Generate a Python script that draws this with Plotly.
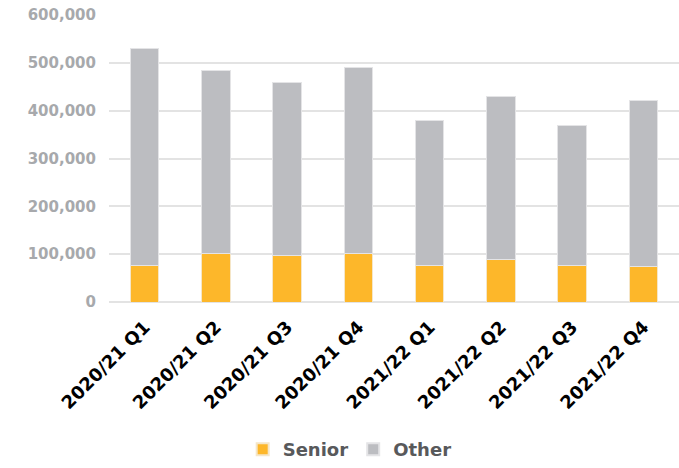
import plotly.graph_objects as go

quarters = ["2020/21 Q1", "2020/21 Q2", "2020/21 Q3", "2020/21 Q4",
            "2021/22 Q1", "2021/22 Q2", "2021/22 Q3", "2021/22 Q4"]
senior = [77000, 102000, 98000, 101000, 76000, 88000, 76000, 74000]
total = [531000, 483000, 458000, 491000, 380000, 429000, 369000, 422000]
other = [t - s for t, s in zip(total, senior)]

fig = go.Figure()
fig.add_trace(go.Bar(x=quarters, y=senior, name="Senior",
                     marker=dict(color="#FDB72A", line=dict(color="#F5E6C8", width=1))))
fig.add_trace(go.Bar(x=quarters, y=other, name="Other",
                     marker=dict(color="#BCBDC1", line=dict(color="#E4E4E6", width=1))))

fig.update_layout(
    barmode="stack",
    bargap=0.6,
    width=679, height=468,
    margin=dict(l=109, r=0, t=15, b=166),
    paper_bgcolor="white", plot_bgcolor="white",
    font=dict(family="DejaVu Sans, sans-serif"),
    showlegend=True,
    legend=dict(orientation="h", xref="container", yref="container",
                x=0.515, xanchor="center", y=-0.02, yanchor="bottom",
                font=dict(size=18, color="#58595B", family="DejaVu Sans, sans-serif", weight=700),
                itemsizing="constant", traceorder="normal", itemwidth=30),
    xaxis=dict(tickangle=-45, tickfont=dict(size=18, color="black", family="DejaVu Sans, sans-serif", weight=900),
               showgrid=False, showline=False, ticks="", automargin=False, ticklabelstandoff=10),
    yaxis=dict(range=[0, 600000], dtick=100000, tickformat=",",
               tickfont=dict(size=15, color="#A7A9AC", family="DejaVu Sans, sans-serif", weight=700),
               gridcolor="#E3E3E3", gridwidth=2, zeroline=True, zerolinecolor="#E3E3E3",
               zerolinewidth=2, ticks="", ticklabelstandoff=12, automargin=False),
)

fig.write_html("out.html")
